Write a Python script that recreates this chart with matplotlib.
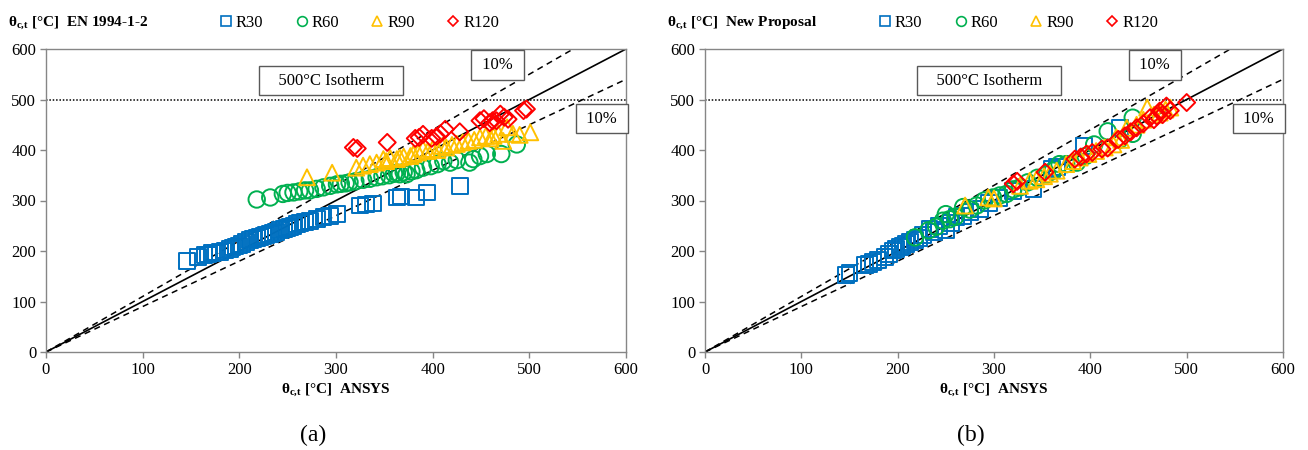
import numpy as np
import matplotlib
matplotlib.use("Agg")
import matplotlib.pyplot as plt
from matplotlib.lines import Line2D

# Times-like look of the original (Excel charts)
plt.rcParams['font.family'] = ['Liberation Serif', 'DejaVu Serif']
plt.rcParams['mathtext.fontset'] = 'custom'
plt.rcParams['mathtext.rm'] = 'Liberation Serif'
plt.rcParams['mathtext.bf'] = 'Liberation Serif:bold'
plt.rcParams['mathtext.it'] = 'Liberation Serif:italic'

# ---- data: (a) EN 1994-1-2 vs ANSYS ----
en_r30_x = [146, 157, 164, 168, 172, 176, 180, 185, 190, 193, 196, 200, 203, 207, 211, 214, 218, 221,
            225, 228, 232, 235, 238, 242, 246, 249, 252, 256, 260, 263, 268, 273, 280, 287, 294, 301,
            325, 331, 338, 363, 367, 383, 394, 428]
en_r30_y = [181, 188, 192, 193, 196, 197, 198, 201, 204, 207, 209, 211, 214, 217, 221, 223, 225, 227,
            230, 232, 234, 236, 238, 241, 243, 245, 247, 250, 254, 256, 258, 260, 264, 267, 270, 273,
            290, 292, 294, 306, 308, 306, 316, 329]
en_r60_x = [218, 232, 245, 250, 256, 262, 268, 273, 280, 287, 294, 301, 305, 310, 314, 320, 328, 335,
            342, 348, 355, 360, 363, 366, 370, 373, 378, 383, 390, 398, 405, 411, 418, 425, 438, 442,
            449, 456, 471, 487]
en_r60_y = [302, 306, 313, 315, 316, 318, 320, 320, 323, 326, 329, 332, 333, 334, 336, 338, 341, 343,
            346, 348, 350, 353, 355, 352, 356, 352, 358, 360, 365, 368, 372, 378, 375, 380, 375, 382,
            388, 392, 392, 411]
en_r90_x = [270, 296, 321, 328, 335, 342, 349, 352, 356, 363, 366, 370, 377, 380, 385, 390, 395, 400,
            405, 410, 414, 420, 425, 431, 437, 443, 449, 455, 460, 463, 468, 473, 477, 483, 490, 501]
en_r90_y = [346, 355, 365, 369, 372, 375, 382, 378, 384, 382, 385, 387, 388, 392, 395, 402, 398, 402,
            400, 408, 405, 410, 412, 415, 418, 420, 425, 428, 423, 428, 432, 418, 445, 432, 430, 435]
en_r120_x = [318, 322, 353, 382, 386, 390, 399, 404, 408, 413, 428, 449, 453, 459, 462, 466, 470, 474,
             478, 494, 497]
en_r120_y = [405, 403, 415, 423, 425, 431, 423, 427, 432, 441, 436, 458, 462, 454, 458, 458, 471, 465,
             461, 478, 481]

# ---- data: (b) New Proposal vs ANSYS ----
np_r30_x = [146, 150, 166, 170, 174, 180, 187, 191, 195, 198, 202, 205, 209, 213, 218, 222, 226, 233,
            238, 243, 250, 255, 261, 268, 275, 286, 295, 305, 320, 341, 360, 365, 393, 431]
np_r30_y = [152, 156, 172, 175, 178, 182, 188, 194, 201, 204, 208, 210, 214, 218, 222, 226, 232, 244,
            238, 250, 241, 256, 267, 270, 278, 283, 295, 305, 318, 323, 362, 366, 408, 444]
np_r60_x = [218, 232, 240, 247, 250, 254, 260, 268, 275, 282, 290, 299, 306, 313, 320, 327, 335, 345,
            355, 361, 368, 375, 386, 395, 404, 418, 430, 444, 444]
np_r60_y = [227, 241, 248, 260, 273, 263, 268, 287, 282, 290, 300, 306, 310, 313, 322, 326, 336, 345,
            352, 359, 372, 372, 375, 388, 411, 437, 420, 464, 432]
np_r90_x = [270, 294, 300, 327, 337, 344, 352, 358, 365, 375, 382, 389, 398, 406, 415, 424, 427, 432,
            438, 448, 455, 459, 466, 472, 478, 483]
np_r90_y = [290, 306, 304, 329, 339, 342, 348, 353, 359, 372, 378, 385, 392, 398, 405, 411, 425, 420,
            444, 450, 460, 484, 470, 474, 480, 484]
np_r120_x = [320, 324, 353, 384, 390, 396, 402, 412, 418, 429, 436, 442, 448, 455, 462, 466, 469, 472,
             475, 479, 483, 500]
np_r120_y = [333, 338, 356, 382, 386, 392, 395, 402, 404, 421, 428, 436, 444, 452, 464, 460, 467, 477,
             470, 487, 478, 494]

series_names = ['R30', 'R60', 'R90', 'R120']
colors = ['#0070C0', '#00B050', '#FFC000', '#FF0000']
markers = ['s', 'o', '^', 'D']
sizes = [130, 140, 130, 75]

ref_line = [0, 600]
isotherm = 500

panels = [
    ("EN 1994-1-2", "(a)",
     [(en_r30_x, en_r30_y), (en_r60_x, en_r60_y), (en_r90_x, en_r90_y), (en_r120_x, en_r120_y)]),
    ("New Proposal", "(b)",
     [(np_r30_x, np_r30_y), (np_r60_x, np_r60_y), (np_r90_x, np_r90_y), (np_r120_x, np_r120_y)]),
]

W, H = 1308, 450
fig = plt.figure(figsize=(W / 100, H / 100), dpi=100)
ax_boxes = [(46, 626), (705, 1283)]
gray = '#868686'
theta = r'$\mathbf{θ_{c{,}t}}$'

for (name, tag, data), (x0, x1) in zip(panels, ax_boxes):
    ax = fig.add_axes([x0 / W, 1 - 352 / H, (x1 - x0) / W, (352 - 49) / H])
    ax.set_xlim(0, 600)
    ax.set_ylim(0, 600)
    xs = np.array(ref_line, dtype=float)
    ax.plot(xs, xs, color='black', lw=1.2, zorder=1)
    ax.plot(xs, 1.1 * xs, color='black', lw=1.1, ls=(0, (4, 3)), zorder=1)
    ax.plot(xs, 0.9 * xs, color='black', lw=1.1, ls=(0, (4, 3)), zorder=1)
    ax.axhline(isotherm, color='black', lw=1.1, ls=(0, (1, 1.2)), zorder=1)

    for (sx, sy), c, m, s in zip(data, colors, markers, sizes):
        ax.scatter(sx, sy, s=s, marker=m, facecolors='none', edgecolors=c,
                   linewidths=1.4, zorder=3)

    box = dict(boxstyle='square,pad=0.4', fc='white', ec='#595959', lw=1)
    ax.text(295, 537, '   500°C Isotherm   ', ha='center', va='center', fontsize=12, bbox=box, zorder=5)
    ax.text(467, 568, ' 10% ', ha='center', va='center', fontsize=12, bbox=box, zorder=5)
    ax.text(575, 462, ' 10% ', ha='center', va='center', fontsize=12, bbox=box, zorder=5)

    ax.set_xticks(range(0, 601, 100))
    ax.set_yticks(range(0, 601, 100))
    for sp in ax.spines.values():
        sp.set_color(gray)
        sp.set_linewidth(1)
    ax.tick_params(direction='out', length=4, width=1, color=gray, labelsize=12, pad=3)
    ax.set_xlabel(theta + ' [°C]  ANSYS', fontsize=11, fontweight='bold', labelpad=3)

    fig.text(x0 / W - 38 / W, 1 - 23 / H, theta + ' [°C]  ' + name,
             fontsize=11, fontweight='bold', ha='left', va='center')
    fig.text((x0 + x1) / 2 / W - 23 / W, 1 - 435 / H, tag, fontsize=17, ha='center', va='center')

    handles = [Line2D([], [], ls='none', marker=m, mfc='none', mec=c, mew=1.2, ms=7 if m != 'D' else 5)
               for c, m in zip(colors, markers)]
    fig.legend(handles, series_names, loc='center left', ncol=4, frameon=False, fontsize=12,
               bbox_to_anchor=((x0 + 173) / W, 1 - 23 / H), handlelength=0.8, handletextpad=0.2,
               columnspacing=1.9, borderpad=0, borderaxespad=0)

fig.savefig('out.png', dpi=100)
